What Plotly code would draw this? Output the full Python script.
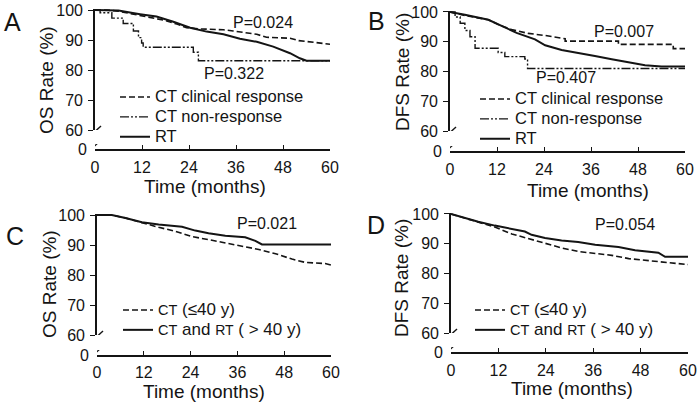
import plotly.graph_objects as go

# ---------------- data ----------------
month_ticks = [0, 12, 24, 36, 48, 60]
rate_ticks = [60, 70, 80, 90, 100]

# Panel A – OS
A_resp_t = [0, 3, 6, 9.8, 12, 15.7, 18, 20.9, 23.4, 26.8, 30, 32.8, 35.3, 38, 41.3, 43.8, 46, 49.8, 52, 56.6, 60]
A_resp_v = [100, 100, 99.6, 98.6, 98.2, 97.2, 96.5, 95.3, 94.1, 93.7, 93.6, 93.4, 93, 92.5, 91.9, 90.9, 90.7, 90.6, 89.8, 89.2, 88.6]
A_non_t = [0, 1.3, 4.3, 7.2, 9.8, 11.1, 11.9, 12.3, 25.1, 26.4, 60]
A_non_v = [100, 99.1, 97.3, 95.5, 93, 90.8, 89, 87.6, 85.9, 83.1, 83.1]
A_rt_t = [0, 6, 11.5, 15.7, 20, 24.3, 28.5, 32.8, 37, 41.3, 45.5, 49.8, 52.3, 54, 60]
A_rt_v = [100, 99.8, 98.6, 97.8, 96.1, 94.1, 92.8, 91.9, 90.4, 89.4, 87.8, 85.6, 83.9, 83.1, 83.1]

# Panel B – DFS
B_resp_t = [0, 3.8, 9.8, 12.3, 15.7, 20, 24.3, 27, 29.4, 29.4, 43, 43, 57, 57, 60]
B_resp_v = [100, 98.8, 97.4, 95.8, 94.1, 92.8, 92.1, 91.5, 91, 90.2, 90.2, 89.1, 89.1, 87.7, 87.7]
B_non_t = [0, 1.3, 2.6, 3.8, 5.1, 6.4, 12.3, 14, 19.1, 19.8, 60]
B_non_v = [100, 98.3, 96.2, 93.8, 91.7, 87.8, 86.4, 85, 84.2, 81, 81]
B_rt_t = [0, 3.8, 9.8, 13.2, 17, 21.7, 24.3, 28.5, 32.8, 37, 41.3, 45.5, 49.8, 54, 60]
B_rt_v = [100, 99.1, 97.4, 95.2, 93, 90.8, 88.8, 87.2, 86.3, 85.2, 84.1, 83.2, 82.1, 81.7, 81.7]

# Panel C – OS by age
C_ct_t = [0, 3.8, 7.3, 11.5, 15.8, 20, 24.3, 28.6, 32.9, 37.2, 41.5, 45.8, 50, 53.4, 58.5, 60]
C_ct_v = [100, 100, 99, 97.4, 95.9, 94.6, 92.8, 91.8, 90.6, 89.6, 88.5, 87.1, 85.3, 84.2, 83.8, 83.3]
C_ctrt_t = [0, 3.8, 7.3, 11.5, 15.8, 21.8, 25.2, 28.6, 32.9, 38, 40.6, 42.3, 60]
C_ctrt_v = [100, 100, 99, 97.6, 96.8, 96.1, 94.8, 93.9, 93.1, 92.6, 91.4, 90.2, 90.2]

# Panel D – DFS by age
D_ct_t = [0, 3.5, 6.9, 11.1, 15.4, 19.6, 23.8, 28, 32.2, 36.5, 40.7, 45, 49.3, 54, 60]
D_ct_v = [100, 98.6, 97.4, 95.6, 93.3, 91.7, 90, 88.6, 87.4, 86.7, 86.1, 85, 84.4, 83.6, 83]
D_ctrt_t = [0, 3.5, 6.9, 11.1, 15.4, 18.7, 20.4, 23.8, 28, 32.2, 36.5, 42.4, 46.6, 52.5, 54.2, 60]
D_ctrt_v = [100, 98.6, 97.4, 96.1, 95, 94.1, 93, 91.9, 91.1, 90.6, 89.7, 88.9, 87.8, 87, 85.6, 85.6]

p_values = {"A": ["P=0.024", "P=0.322"], "B": ["P=0.007", "P=0.407"], "C": ["P=0.021"], "D": ["P=0.054"]}

# ---------------- styling / layout ----------------
W, H = 700, 408
INK = "#141414"
FONT = "Arial, 'Liberation Sans', sans-serif"
DASH = "6px,3px"
DASHDOT = "9px,2px,2px,2px,2px,2px"

def fx(px):
    return px / W

def fy(py):
    return 1 - py / H

# pixel geometry of each panel: x-axis start/end, y of 100, 60 and 0
panels = {
    "A": dict(x0=95, x1=330, y100=10, y60=130, y0=149),
    "B": dict(x0=450, x1=685, y100=12, y60=131, y0=151),
    "C": dict(x0=97, x1=331, y100=215, y60=335, y0=355),
    "D": dict(x0=451, x1=688, y100=214, y60=333, y0=352),
}

A_resp_label = "CT clinical response"
A_non_label = "CT non-response"
RT_label = "RT"

def big(s, size=16.5):
    return f'<span style="font-size:{size}px">{s}</span>'

def age_label_ct():
    return big("CT", 14.5) + big(" (≤40 y)", 17)

def age_label_ctrt():
    return big("CT", 14.5) + big(" and ", 17) + big("RT", 14) + big(" ( > 40 y)", 17)

series = {
    "A": [
        (A_resp_t, A_resp_v, big(A_resp_label), DASH, 1.6, "linear"),
        (A_non_t, A_non_v, big(A_non_label), DASHDOT, 1.4, "hv"),
        (A_rt_t, A_rt_v, big(RT_label), "solid", 2.0, "linear"),
    ],
    "B": [
        (B_resp_t, B_resp_v, big(A_resp_label), DASH, 1.6, "linear"),
        (B_non_t, B_non_v, big(A_non_label), DASHDOT, 1.4, "hv"),
        (B_rt_t, B_rt_v, big(RT_label), "solid", 2.0, "linear"),
    ],
    "C": [
        (C_ct_t, C_ct_v, age_label_ct(), DASH, 1.6, "linear"),
        (C_ctrt_t, C_ctrt_v, age_label_ctrt(), "solid", 2.0, "linear"),
    ],
    "D": [
        (D_ct_t, D_ct_v, age_label_ct(), DASH, 1.6, "linear"),
        (D_ctrt_t, D_ctrt_v, age_label_ctrt(), "solid", 2.0, "linear"),
    ],
}

# legend: symbol-start x (px), first-row centre y (px)
legend_pos = {"A": (120, 97), "B": (480, 99), "C": (123, 310), "D": (475, 310)}
# p-value positions in data coords
p_pos = {"A": [(43, 96), (35.5, 78.8)], "B": [(44.4, 93.3), (29.6, 77.9)], "C": [(43.5, 97.2)], "D": [(44, 96.5)]}
letter_pos = {"A": (12, 22), "B": (376, 21), "C": (15, 236), "D": (376, 225)}
ytitle = {"A": ("OS Rate (%)", 47, 80), "B": ("DFS Rate (%)", 402, 72),
          "C": ("OS Rate (%)", 49, 284), "D": ("DFS Rate (%)", 401, 278)}
xtitle_pos = {"A": (205, 187), "B": (588, 190), "C": (204, 391.5), "D": (572, 388)}

fig = go.Figure()
layout = dict(
    width=W, height=H, margin=dict(l=0, r=0, t=0, b=0, autoexpand=False),
    paper_bgcolor="white", plot_bgcolor="white",
    font=dict(family=FONT, color=INK, size=16),
    annotations=[], shapes=[],
)

for i, key in enumerate(["A", "B", "C", "D"], start=1):
    g = panels[key]
    xa, ya, yz = f"x{i}", f"y{i}", f"y{i+4}"
    lg = "legend" if i == 1 else f"legend{i}"
    for t, v, name, dash, lw, shape in series[key]:
        fig.add_trace(go.Scatter(
            x=t, y=v, name=name, mode="lines", xaxis=xa, yaxis=ya, legend=lg,
            line=dict(color=INK, width=lw, dash=dash, shape=shape),
            hoverinfo="skip",
        ))
    sfx = "" if i == 1 else str(i)
    layout[f"xaxis{sfx}"] = dict(
        domain=[fx(g["x0"]), fx(g["x1"])], range=[0, 60], anchor=yz,
        showline=True, linecolor=INK, linewidth=1.6,
        ticks="inside", ticklen=4, tickwidth=1.3, tickcolor=INK,
        tickvals=month_ticks, tickfont=dict(size=16),
        ticklabelstandoff=2 if key == "C" else 3,
        showgrid=False, zeroline=False, fixedrange=True,
    )
    layout[f"yaxis{sfx}"] = dict(
        domain=[fy(g["y60"]), fy(g["y100"] - 0.9)], range=[60, 100.3], anchor=xa,
        showline=True, linecolor=INK, linewidth=1.6,
        ticks="outside", ticklen=5, tickwidth=1.3, tickcolor=INK,
        tickvals=rate_ticks, tickfont=dict(size=16), ticklabelstandoff=2,
        showgrid=False, zeroline=False, fixedrange=True,
    )
    layout[f"yaxis{i+4}"] = dict(
        domain=[fy(g["y0"]), fy(g["y0"] - 5)], range=[0, 10], anchor=xa,
        showline=False, ticks="", tickvals=[0], ticktext=["0"],
        tickfont=dict(size=16), ticklabelstandoff=7,
        showgrid=False, zeroline=False, fixedrange=True,
    )
    # axis-break slashes
    layout["shapes"].append(dict(
        type="line", xref=xa, yref=ya, xsizemode="pixel", ysizemode="pixel",
        xanchor=0, yanchor=60, x0=-6, x1=6, y0=-7, y1=4,
        line=dict(color=INK, width=1.4)))
    layout["shapes"].append(dict(
        type="line", xref=xa, yref=yz, xsizemode="pixel", ysizemode="pixel",
        xanchor=0, yanchor=0, x0=-7, x1=5, y0=-3, y1=8,
        line=dict(color=INK, width=1.4)))
    # legend
    lx, ly = legend_pos[key]
    layout[lg] = dict(
        x=fx(lx - 5), y=fy(ly - 15), xanchor="left", yanchor="top",
        bgcolor="rgba(0,0,0,0)", borderwidth=0, font=dict(size=13, color=INK, family=FONT),
        itemwidth=30, itemclick=False, itemdoubleclick=False,
    )
    # p-values
    for txt, (px_, py_) in zip(p_values[key], p_pos[key]):
        layout["annotations"].append(dict(
            x=px_, y=py_, xref=xa, yref=ya, text=txt, showarrow=False,
            font=dict(size=16, color=INK), xanchor="center", yanchor="middle"))
    # panel letter
    lx_, ly_ = letter_pos[key]
    layout["annotations"].append(dict(
        x=fx(lx_), y=fy(ly_), xref="paper", yref="paper", text=key, showarrow=False,
        font=dict(size=25, color=INK), xanchor="center", yanchor="middle"))
    # axis titles
    t_, tx_, ty_ = ytitle[key]
    layout["annotations"].append(dict(
        x=fx(tx_), y=fy(ty_), xref="paper", yref="paper", text=t_, textangle=-90,
        showarrow=False, font=dict(size=19, color=INK), xanchor="center", yanchor="middle"))
    tx_, ty_ = xtitle_pos[key]
    layout["annotations"].append(dict(
        x=fx(tx_), y=fy(ty_), xref="paper", yref="paper", text="Time (months)",
        showarrow=False, font=dict(size=19, color=INK), xanchor="center", yanchor="middle"))

fig.update_layout(**layout)
fig.write_html(
    "out.html",
    config={"displayModeBar": False, "staticPlot": False},
    post_script="document.body.style.margin='0';document.body.style.overflow='hidden';",
)
